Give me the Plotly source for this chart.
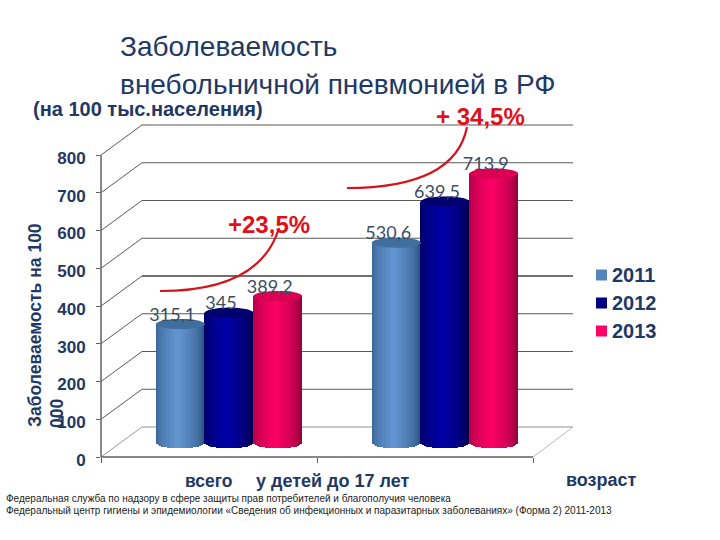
import numpy as np
import plotly.graph_objects as go

categories = ["всего", "у детей до 17 лет"]
years = ["2011", "2012", "2013"]
values_2011 = [315.1, 530.6]
values_2012 = [345, 639.5]
values_2013 = [389.2, 713.9]
labels_2011 = ["315,1", "530,6"]
labels_2012 = ["345", "639,5"]
labels_2013 = ["389,2", "713,9"]
y_ticks = [0, 100, 200, 300, 400, 500, 600, 700, 800]

L, R, T, B = 101, 573, 125, 457
PX_PER_UNIT = 0.3775
DARK = "#1f3864"


def xp(px):
    return (px - L) / (R - L)


def yp(py):
    return (B - py) / (B - T)


def xd(px):
    return (px - 209) / 216


y1_top = (B - T) / PX_PER_UNIT
y2_bottom = -14 / PX_PER_UNIT
y2_top = y1_top + y2_bottom

fig = go.Figure()

# keeps the front value axis alive: the cylinders sit on the shifted axis y2
fig.add_trace(go.Scatter(x=[xd(L)], y=[0], mode="markers", marker=dict(opacity=0, size=1),
                         yaxis="y", showlegend=False, hoverinfo="skip"))

series = [
    (years[0], values_2011, labels_2011, -48.7, ("#2c5480", "#6496d2", "#3f6e9f"), "#5585bd"),
    (years[1], values_2012, labels_2012, 0, ("#00004f", "#0000a8", "#00006e"), "#000080"),
    (years[2], values_2013, labels_2013, 48.7, ("#98003e", "#ff0066", "#dc0052"), "#ff0066"),
]
N = 25
CYL_W = 49
ELL = 5.2
u = (np.arange(N) + 0.5) / N * 2 - 1
shade = np.clip(1 - np.abs(u + 0.1) / 1.0, 0, 1) ** 0.55


def mix(a, b, t):
    ca = [int(a[i:i + 2], 16) for i in (1, 3, 5)]
    cb = [int(b[i:i + 2], 16) for i in (1, 3, 5)]
    return "rgb(%d,%d,%d)" % tuple(ca[k] + (cb[k] - ca[k]) * t for k in range(3))


for name, vals, labs, off, cols, swatch in series:
    xs, ys, bases, colors = [], [], [], []
    for g, v in enumerate(vals):
        c = 229 + 216 * g + off
        for ui, s in zip(u, shade):
            dy = ELL * np.sqrt(1 - ui ** 2) / PX_PER_UNIT
            xs.append(xd(c + ui * CYL_W / 2))
            ys.append(v + dy)
            bases.append(-dy)
            colors.append(mix(cols[0], cols[1], s))
    fig.add_trace(go.Bar(x=xs, y=ys, base=bases, width=(CYL_W / N + 0.5) / 216,
                         marker=dict(color=colors, line=dict(width=0)), name=name,
                         yaxis="y2", showlegend=False, hoverinfo="skip"))

t = np.linspace(0, 2 * np.pi, 60)
for name, vals, labs, off, cols, swatch in series:
    for g, v in enumerate(vals):
        c = 229 + 216 * g + off
        fig.add_trace(go.Scatter(
            x=xd(c + np.cos(t) * CYL_W / 2), y=v + np.sin(t) * ELL / PX_PER_UNIT,
            mode="lines", fill="toself", fillcolor=cols[2], line=dict(width=0, color=cols[2]),
            yaxis="y2", showlegend=False, hoverinfo="skip"))

for name, vals, labs, off, cols, swatch in series:
    fig.add_trace(go.Scatter(
        x=[xd(229 + 216 * g + off - 8) for g in range(2)],
        y=[v + 8 / PX_PER_UNIT for v in vals],
        text=labs, mode="text", textposition="middle center",
        textfont=dict(family="Lato", size=18, color="#3a4d66"),
        yaxis="y2", showlegend=False, hoverinfo="skip", cliponaxis=False))

shapes = []


def seg(x0, y0, x1, y1, color="#5a5a5a", width=1.2, layer="below"):
    shapes.append(dict(type="line", xref="paper", yref="paper", x0=xp(x0), y0=yp(y0), x1=xp(x1), y1=yp(y1),
                       line=dict(color=color, width=width), layer=layer))


for v in y_ticks:
    back = 427 - v * PX_PER_UNIT
    front = B - v * PX_PER_UNIT
    if v == 0:
        col, w = "#c8c8c8", 2
    elif v == 400:
        col, w = "#707070", 2
    else:
        col, w = "#5a5a5a", 1.2
    seg(142, back, R, back, col, w)
    seg(L, front, 142, back, "#5a5a5a" if v else "#9a9a9a", 1)
seg(L, T + 30, L, B, "#606060", 1.5)
seg(L, B, 533, B, "#606060", 1.5)
seg(533, B, R, 427, "#b8b8b8", 1)

# key swatches
for i, (name, vals, labs, off, cols, swatch) in enumerate(series):
    py = 275 + 28 * i
    shapes.append(dict(type="rect", xref="paper", yref="paper", x0=xp(596), x1=xp(607),
                       y0=yp(py + 5.5), y1=yp(py - 5.5), fillcolor=swatch, line=dict(width=0), layer="above"))


def curve(p0, c, p2):
    return ("M %f %f Q %f %f %f %f" % (xp(p0[0]), yp(p0[1]), xp(c[0]), yp(c[1]), xp(p2[0]), yp(p2[1])))


for p0, c, p2 in [((160, 291), (260, 291), (279, 228)), ((347, 188), (455, 188), (467, 127))]:
    shapes.append(dict(type="path", xref="paper", yref="paper", path=curve(p0, c, p2),
                       line=dict(color="#d3141c", width=2.2), layer="above"))

annotations = []


def note(text, px, py, size, color=DARK, bold=False, anchor="left", angle=0, family="Liberation Sans"):
    annotations.append(dict(text="<b>%s</b>" % text if bold else text, xref="paper", yref="paper",
                            x=xp(px), y=yp(py), xanchor=anchor, yanchor="middle", showarrow=False,
                            textangle=angle, font=dict(family=family, size=size, color=color)))


note("Заболеваемость", 118, 47, 28)
note("внебольничной пневмонией в РФ", 118, 84, 28)
note("(на 100 тыс.населения)", 31, 109, 20, bold=True)
note("+23,5%", 269, 224, 24, color="#e0101a", bold=True, anchor="center")
note("+ 34,5%", 480, 116, 24, color="#e0101a", bold=True, anchor="center")
note(categories[0], 209, 481, 17.5, bold=True, anchor="center")
note(categories[1], 333, 481, 18, bold=True, anchor="center")
note("возраст", 601, 480, 18, bold=True, anchor="center")
note("Заболеваемость на 100", 35, 325, 17.5, bold=True, anchor="center", angle=-90)
note("000", 57, 414, 17.5, bold=True, anchor="center", angle=-90)
note("Федеральная служба по надзору в сфере защиты прав потребителей и благополучия человека", 4, 498, 10, color="#222222")
note("Федеральный центр гигиены и эпидемиологии «Сведения об инфекционных и паразитарных заболеваниях» (Форма 2) 2011-2013", 4, 510, 10, color="#222222")
for i, name in enumerate(years):
    note(name, 610, 275 + 28 * i, 20, bold=True)

fig.update_layout(
    width=720, height=540, margin=dict(l=L, r=720 - R, t=T, b=540 - B),
    paper_bgcolor="white", plot_bgcolor="rgba(0,0,0,0)", barmode="overlay", bargap=0,
    shapes=shapes, annotations=annotations, showlegend=False,
    font=dict(family="Liberation Sans"),
    xaxis=dict(range=[xd(L), xd(R)], tickmode="array", tickvals=[xd(101), xd(317), xd(533)],
               ticktext=["", "", ""], ticks="outside", ticklen=5, tickcolor="#606060", showgrid=False,
               zeroline=False, showline=False),
    yaxis=dict(range=[0, y1_top], tickmode="array", tickvals=y_ticks, ticks="outside", ticklen=4,
               tickcolor="#606060", showgrid=False, zeroline=False, showline=False,
               ticklabelstandoff=7, ticklabelshift=3,
               tickfont=dict(family="Liberation Sans", size=17, color=DARK, weight="bold")),
    yaxis2=dict(range=[y2_bottom, y2_top], overlaying="y", side="left", visible=False),
)

fig.write_html("out.html", config=dict(displayModeBar=False), post_script="document.body.style.margin='0';")
